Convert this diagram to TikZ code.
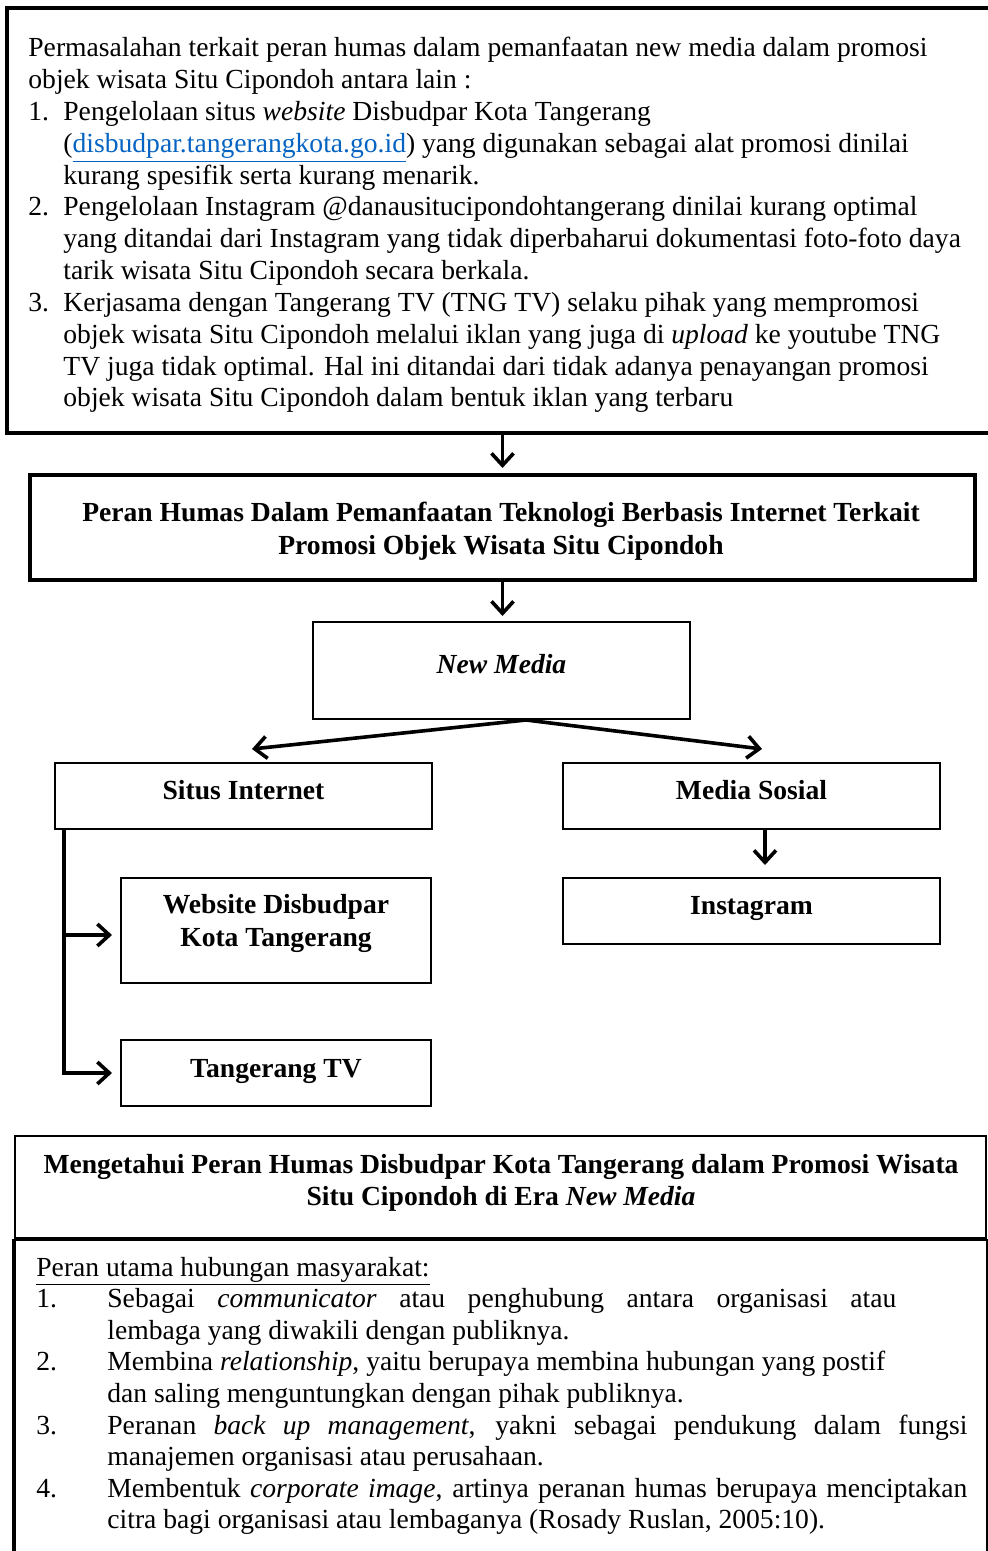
\documentclass[tikz,border=0pt]{standalone}
\usepackage{fontspec}
\setmainfont{Liberation Serif}
\usetikzlibrary{arrows.meta}
\definecolor{linkblue}{HTML}{0563C1}
\newcommand{\lnk}[1]{{\color{linkblue}\underline{#1}}}
\begin{document}
\begin{tikzpicture}[x=0.5pt,y=-0.5pt,
  font=\fontsize{13.8pt}{15.9pt}\selectfont,
  bx/.style={draw, line width=1pt, inner sep=0},
  txt/.style={inner sep=0, anchor=base west},
  ctxt/.style={inner sep=0, anchor=base},
  arr/.style={line width=1.8pt, -{Straight Barb[length=6pt,width=11pt]}}]
\useasboundingbox (0,0) rectangle (988,1551);
% boxes
\node[bx, line width=1.6pt, minimum width=494pt, minimum height=212.5pt] (top) at (501,220.5) {};
\node[bx, line width=2pt, minimum width=472.5pt, minimum height=52.5pt] (hdr) at (502.5,527.5) {};
\node[bx, minimum width=188.5pt, minimum height=48.5pt] (nm) at (501.5,670.5) {};
\node[bx, minimum width=188.5pt, minimum height=33pt] (situs) at (243.5,796) {};
\node[bx, minimum width=188.5pt, minimum height=33pt] (media) at (751.5,796) {};
\node[bx, minimum width=188.5pt, minimum height=33pt] (insta) at (751.5,911) {};
\node[bx, minimum width=155pt, minimum height=52.5pt] (web) at (276,930.5) {};
\node[bx, minimum width=155pt, minimum height=33pt] (tv) at (276,1073) {};
\node[bx, minimum width=485.5pt, minimum height=51pt] (goal) at (500.5,1187) {};
\node[bx, minimum width=486pt, minimum height=165pt] (roles) at (501,1405) {};
\draw[line width=1.6pt] (roles.north west) -- (roles.south west);
% top text
\node[txt] (p0) at (28,57) {Permasalahan terkait peran humas dalam pemanfaatan new media dalam promosi};
\node[txt] (p1) at (28,88.8) {objek wisata Situ Cipondoh antara lain :};
\node[txt] (n1) at (28,120.6) {1.};
\node[txt] (p2) at (63,120.6) {Pengelolaan situs \textit{website} Disbudpar Kota Tangerang};
\node[txt] (p3) at (63,152.4) {(\lnk{disbudpar.tangerangkota.go.id}) yang digunakan sebagai alat promosi dinilai};
\node[txt] (p4) at (63,184.2) {kurang spesifik serta kurang menarik.};
\node[txt] (n2) at (28,216) {2.};
\node[txt] (p5) at (63,216) {Pengelolaan Instagram @danausitucipondohtangerang dinilai kurang optimal};
\node[txt] (p6) at (63,247.8) {yang ditandai dari Instagram yang tidak diperbaharui dokumentasi foto-foto daya};
\node[txt] (p7) at (63,279.6) {tarik wisata Situ Cipondoh secara berkala.};
\node[txt] (n3) at (28,311.4) {3.};
\node[txt] (p8) at (63,311.4) {Kerjasama dengan Tangerang TV (TNG TV) selaku pihak yang mempromosi};
\node[txt] (p9) at (63,343.2) {objek wisata Situ Cipondoh melalui iklan yang juga di \textit{upload} ke youtube TNG};
\node[txt] (p10) at (63,375) {TV juga tidak optimal. Hal ini ditandai dari tidak adanya penayangan promosi};
\node[txt] (p11) at (63,406.8) {objek wisata Situ Cipondoh dalam bentuk iklan yang terbaru};
% header
\node[ctxt] (h1) at (501,521) {\bfseries Peran Humas Dalam Pemanfaatan Teknologi Berbasis Internet Terkait};
\node[ctxt] (h2) at (501,554) {\bfseries Promosi Objek Wisata Situ Cipondoh};
\node[ctxt] (nmt) at (501.5,673) {\bfseries\itshape New Media};
\node[ctxt] (sit) at (243.5,799) {\bfseries Situs Internet};
\node[ctxt] (mst) at (751.5,799) {\bfseries Media Sosial};
\node[ctxt] (igt) at (751.5,914) {\bfseries Instagram};
\node[ctxt] (wt1) at (276,913) {\bfseries Website Disbudpar};
\node[ctxt] (wt2) at (276,946) {\bfseries Kota Tangerang};
\node[ctxt] (tvt) at (276,1077) {\bfseries Tangerang TV};
\node[ctxt] (g1) at (501,1173) {\bfseries Mengetahui Peran Humas Disbudpar Kota Tangerang dalam Promosi Wisata};
\node[ctxt] (g2) at (501,1205) {\bfseries Situ Cipondoh di Era \textit{New Media}};
% roles text
\node[txt] (r0) at (36,1276) {\underline{Peran utama hubungan masyarakat:}};
\node[txt] (m1) at (36,1307.6) {1.};
\node[txt] (r1) at (107,1307.6) {\makebox[394.5pt][s]{Sebagai \textit{communicator} atau penghubung antara organisasi atau}};
\node[txt] (r2) at (107,1339.2) {lembaga yang diwakili dengan publiknya.};
\node[txt] (m2) at (36,1370.8) {2.};
\node[txt] (r3) at (107,1370.8) {Membina \textit{relationship}, yaitu berupaya membina hubungan yang postif};
\node[txt] (r4) at (107,1402.4) {dan saling menguntungkan dengan pihak publiknya.};
\node[txt] (m3) at (36,1434) {3.};
\node[txt] (r5) at (107,1434) {\makebox[430pt][s]{Peranan \textit{back up management}, yakni sebagai pendukung dalam fungsi}};
\node[txt] (r6) at (107,1465.6) {manajemen organisasi atau perusahaan.};
\node[txt] (m4) at (36,1497.2) {4.};
\node[txt] (r7) at (107,1497.2) {\makebox[430pt][s]{Membentuk \textit{corporate image}, artinya peranan humas berupaya menciptakan}};
\node[txt] (r8) at (107,1528.8) {citra bagi organisasi atau lembaganya (Rosady Ruslan, 2005:10).};
% connectors
\draw[arr, shorten >=2.5pt] (top.south -| hdr.center) -- (hdr.north);
\draw[arr, shorten >=2.5pt] (hdr.south) -- (hdr.south |- nm.north);
\coordinate (br) at (526,720);
\coordinate (lt) at (252,749);
\coordinate (rt) at (762,749);
\draw[arr] (br) -- (lt);
\draw[arr] (br) -- (rt);
\draw[arr, shorten >=6pt] ([xshift=6.75pt]media.south) -- ([xshift=6.75pt]insta.north);
\draw[arr, shorten >=4pt] ([xshift=5pt]situs.south west) |- (tv.west);
\draw[arr, shorten >=4pt] ([xshift=5pt,yshift=-2.25pt]situs.south west |- web.west) -- ([yshift=-2.25pt]web.west);
\end{tikzpicture}
\end{document}
